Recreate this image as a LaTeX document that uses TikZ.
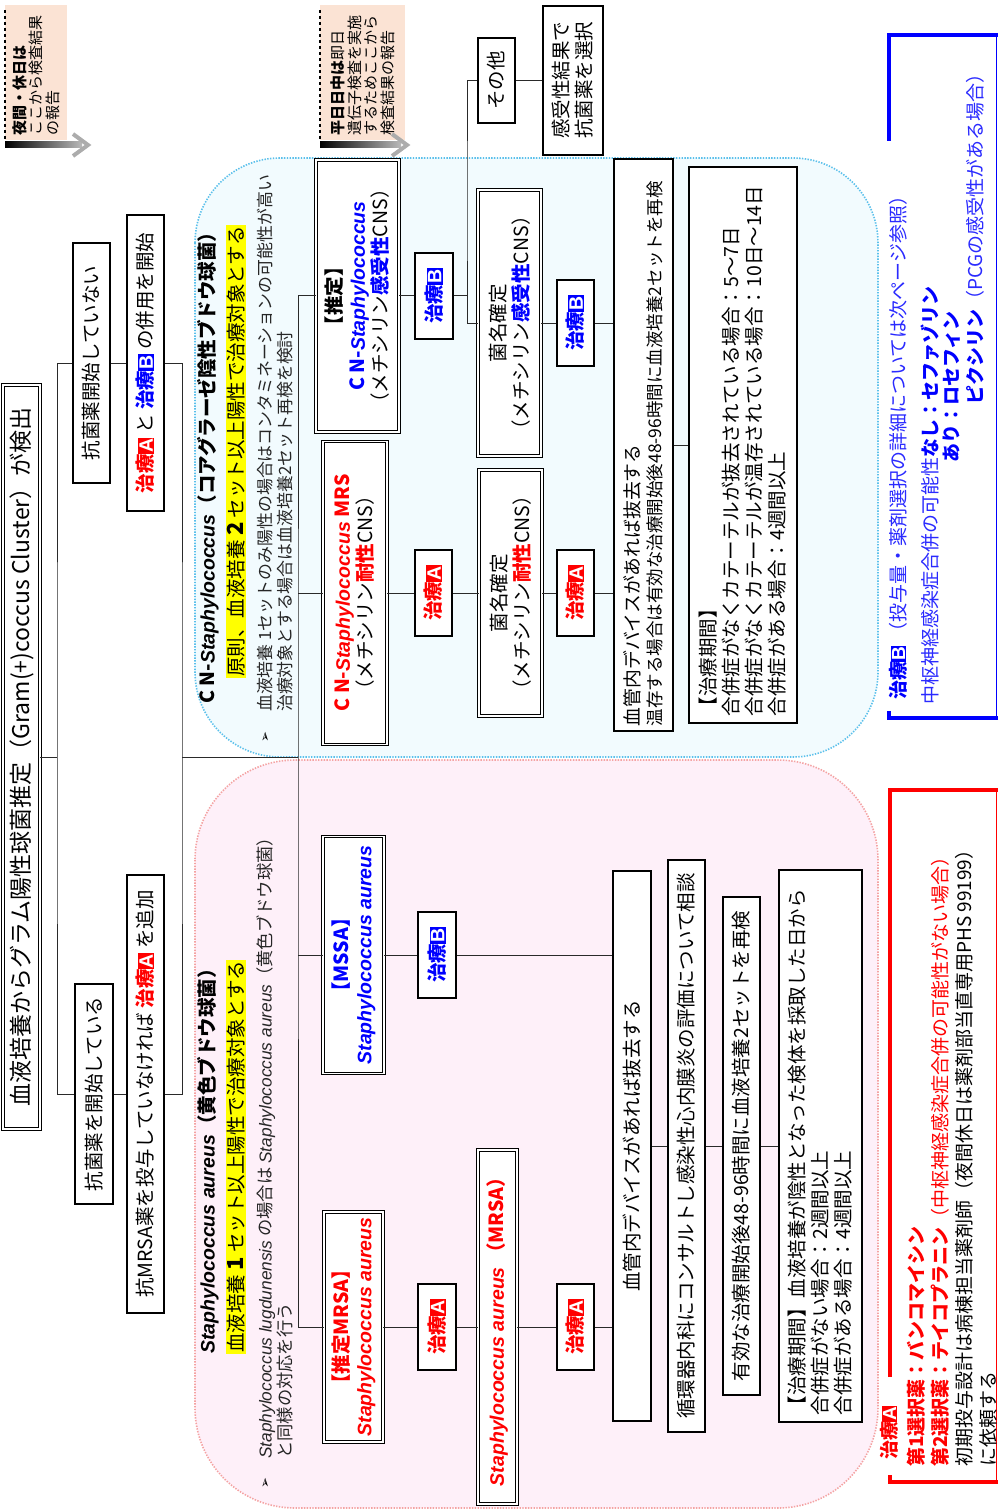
\documentclass[tikz,border=0pt]{standalone}
\usepackage{fontspec}
\setmainfont{Noto Sans CJK JP}
\newfontfamily\lsans{Liberation Sans}
\newfontfamily\dejavu{DejaVu Sans}
\definecolor{myred}{HTML}{FF0000}
\definecolor{myblue}{HTML}{0000FF}
\definecolor{lblue}{HTML}{2A2AFF}
\definecolor{peach}{HTML}{FBE3D4}
\definecolor{cnsfill}{HTML}{F2FBFE}
\definecolor{cnsline}{HTML}{5BC0EB}
\definecolor{safill}{HTML}{FEF0F9}
\definecolor{saline}{HTML}{F4A3A3}
\definecolor{hl}{HTML}{FFFF00}
\definecolor{treec}{HTML}{2A2A2A}
\newcommand\fsz[2]{\fontsize{#1pt}{#2pt}\selectfont}
\newcommand\badge[2]{{\setlength{\fboxsep}{1.1pt}\colorbox{#1}{\textcolor{white}{\lsans\bfseries #2}}}}
\newcommand\trA{{\color{myred}\bfseries 治療}\badge{myred}{A}}
\newcommand\trB{{\color{myblue}\bfseries 治療}\badge{myblue}{B}}
\newcommand\spi[1]{{\lsans\itshape #1}}
\newcommand\spbi[1]{{\lsans\bfseries\itshape #1}}
\begin{document}
\begin{tikzpicture}[x=1pt,y=-1pt,
  bx/.style={draw=black, line width=1.3pt, fill=white, rotate=90, inner sep=1pt, align=center, font=\fsz{19.5}{23}},
  dbx/.style={bx, double=white, double distance=1.6pt, line width=0.9pt},
  lbl/.style={rotate=90, inner sep=0pt, anchor=west, align=left},
  tree/.style={draw=treec, line width=1pt},
  note/.style={rotate=90, fill=peach, inner sep=2pt, align=left, font=\fsz{15}{16.5}},
  chev/.style={draw=gray!65, line width=4pt},
  legthick/.style={line width=4.5pt},
  region/.style={line width=1.6pt, dash pattern=on 1.4pt off 1.4pt}]
\useasboundingbox (0,0) rectangle (998,1511);

% regions
\draw[region, draw=cnsline, fill=cnsfill, rounded corners=85pt] (195,158) rectangle (878,757);
\draw[region, draw=saline, fill=safill, rounded corners=100pt] (195,760) rectangle (878,1508);

% top notes
\node[note, minimum width=135pt, minimum height=62pt, text width=127pt] (note1) at (36,72.5) {\textbf{夜間・休日は}\\ここから検査結果\\の報告};
\node[note, minimum width=135pt, minimum height=85pt, text width=127pt] (note2) at (362.5,72.5) {\textbf{平日日中は}即日\\遺伝子検査を実施\\するためここから\\検査結果の報告};
\draw[dashed, line width=1.2pt] (5,10) -- (5,141);
\draw[dashed, line width=1.2pt] (320,10) -- (320,141);
\coordinate (a1e) at (88,145);
\coordinate (a2e) at (407,145);
\shade[left color=black, right color=gray!55] (5,142) rectangle (82,148);
\draw[chev] (73,134) -- (a1e) -- (73,156);
\shade[left color=black, right color=gray!55] (320,142) rectangle (401,148);
\draw[chev] (392,134) -- (a2e) -- (392,156);

% top boxes
\node[dbx, minimum width=744pt, minimum height=37pt, font=\fsz{23}{25}] (title) at (21.5,757) {血液培養からグラム陽性球菌推定（Gram(+)coccus Cluster）が検出};
\node[bx, minimum width=240pt, minimum height=37pt] (noStart) at (91.5,363) {抗菌薬開始していない};
\node[bx, minimum width=296pt, minimum height=37pt] (combo) at (145.5,363) {\trA{} と \trB{} の併用を開始};
\node[bx, minimum width=220pt, minimum height=38pt] (started) at (94,1094) {抗菌薬を開始している};
\node[bx, minimum width=438pt, minimum height=37pt] (mrsaAdd) at (145.5,1094) {抗MRSA薬を投与していなければ \trA{} を追加};

% region labels CNS
\node[lbl, font=\fsz{19.5}{22}] (cnsTitle) at (208,704) {\textbf{C N-\spbi{Staphylococcus}（コアグラーゼ陰性ブドウ球菌）}};
\node[lbl, fill=hl, inner sep=1pt, font=\fsz{19.5}{22}] (cnsRule) at (236,678) {原則、血液培養 {\fsz{22}{22}\textbf{2}} セット以上陽性で治療対象とする};
\node[lbl, font=\fsz{16.9}{20}, text=black!85] (cnsNote) at (275,712) {血液培養 1セットのみ陽性の場合はコンタミネーションの可能性が高い\\治療対象とする場合は血液培養2セット再検を検討};
\node[rotate=90, inner sep=0pt, font=\dejavu\fsz{13}{13}] (cnsBul) at (266,737) {➢};

% region labels SA
\node[lbl, font=\fsz{19.5}{22}] (saTitle) at (208,1354) {\textbf{\spbi{Staphylococcus aureus}（黄色ブドウ球菌）}};
\node[lbl, fill=hl, inner sep=1pt, font=\fsz{19.5}{22}] (saRule) at (236,1354) {血液培養 {\fsz{22}{22}\textbf{1}} セット以上陽性で治療対象とする};
\node[lbl, font=\fsz{17.3}{20}, text=black!85] (saNote) at (275,1459) {\spi{Staphylococcus lugdunensis} の場合は \spi{Staphylococcus aureus}（黄色ブドウ球菌）\\と同様の対応を行う};
\node[rotate=90, inner sep=0pt, font=\dejavu\fsz{13}{13}] (saBul) at (266,1483) {➢};

% CNS branch
\node[dbx, minimum width=272pt, minimum height=83pt] (cnsEst) at (357.5,296) {\textbf{【推定】}\\\textcolor{myblue}{\textbf{C N-}\spbi{Staphylococcus}}\\（メチシリン\textcolor{myblue}{\textbf{感受性}}CNS）};
\node[dbx, minimum width=303pt, minimum height=64pt] (cnsMRS) at (355,593) {\textcolor{myred}{\textbf{C N-}\spbi{Staphylococcus}\textbf{ MRS}}\\（メチシリン\textcolor{myred}{\textbf{耐性}}CNS）};
\node[bx, minimum width=86pt, minimum height=38pt] (trB1) at (434,296) {\trB};
\node[bx, minimum width=86pt, minimum height=37pt] (trA1) at (433.5,593) {\trA};
\node[bx, minimum width=85pt, minimum height=37pt] (other) at (496.5,80.5) {その他};
\node[bx, minimum width=149pt, minimum height=60pt] (sensSel) at (573,80.5) {感受性結果で\\抗菌薬を選択};
\node[dbx, minimum width=266pt, minimum height=63pt] (cnsConfS) at (509.5,323) {菌名確定\\（メチシリン\textcolor{myblue}{\textbf{感受性}}CNS）};
\node[dbx, minimum width=246pt, minimum height=63pt] (cnsConfR) at (510.5,593) {菌名確定\\（メチシリン\textcolor{myred}{\textbf{耐性}}CNS）};
\node[bx, minimum width=86pt, minimum height=37pt] (trB3) at (575.5,323) {\trB};
\node[bx, minimum width=86pt, minimum height=37pt] (trA3) at (575.5,593) {\trA};
\node[bx, minimum width=572pt, minimum height=59pt, text width=562pt, align=left, inner xsep=5pt, font=\fsz{18.8}{22}] (dev1) at (643.5,445) {血管内デバイスがあれば抜去する\\{\fsz{17.5}{22}温存する場合は有効な治療開始後48-96時間に血液培養2セットを再検}};
\node[bx, minimum width=556pt, minimum height=108pt, text width=542pt, align=left, inner xsep=7pt] (dur1) at (743,445) {【治療期間】\\合併症がなくカテーテルが抜去されている場合：5～7日\\合併症がなくカテーテルが温存されている場合：10日～14日\\合併症がある場合：4週間以上};

% SA branch
\node[dbx, minimum width=237pt, minimum height=61pt] (mssa) at (353.5,955) {\textcolor{myblue}{\textbf{【MSSA】}}\\\textcolor{myblue}{\spbi{Staphylococcus aureus}}};
\node[dbx, minimum width=230pt, minimum height=59pt] (mrsaEst) at (353.5,1327) {\textcolor{myred}{\textbf{【推定MRSA】}}\\\textcolor{myred}{\spbi{Staphylococcus aureus}}};
\node[bx, minimum width=86pt, minimum height=38pt] (trB2) at (437,955) {\trB};
\node[bx, minimum width=86pt, minimum height=38pt] (trA2) at (437,1327) {\trA};
\node[dbx, minimum width=354pt, minimum height=39pt] (saMRSA) at (497.5,1327) {\textcolor{myred}{\spbi{Staphylococcus aureus} \textbf{（MRSA）}}};
\node[bx, minimum width=86pt, minimum height=37pt] (trA4) at (575.5,1327) {\trA};
\node[bx, minimum width=550pt, minimum height=38pt] (dev2) at (632,1146) {血管内デバイスがあれば抜去する};
\node[bx, minimum width=572pt, minimum height=37pt] (cardio) at (686.5,1146) {循環器内科にコンサルトし感染性心内膜炎の評価について相談};
\node[bx, minimum width=498pt, minimum height=37pt] (recheck) at (741.5,1146) {有効な治療開始後48-96時間に血液培養2セットを再検};
\node[bx, minimum width=552pt, minimum height=83pt, text width=538pt, align=left, inner xsep=7pt] (dur2) at (820.5,1146) {【治療期間】血液培養が陰性となった検体を採取した日から\\合併症がない場合：2週間以上\\合併症がある場合：4週間以上};

% connectors
\coordinate (j57) at (57,757);
\coordinate (j182) at (182,757);
\coordinate (j298) at (298,757);
\coordinate (j467) at (467,200);
\draw[tree] (title.south) -- (j57);
\draw[tree] (noStart.north) -| (j57) |- (started.north);
\draw[tree] (noStart.south) -- (combo.north);
\draw[tree] (started.south) -- (mrsaAdd.north);
\draw[tree] (combo.south) -| (j182) |- (mrsaAdd.south);
\draw[tree] (j182) -- (j298);
\draw[tree] (cnsEst.north) -| (j298) |- (mrsaEst.north);
\draw[tree] (cnsMRS.north) -- (cnsMRS.north -| j298);
\draw[tree] (mssa.north) -- (mssa.north -| j298);
\draw[tree] (cnsEst.south) -- (trB1.north);
\draw[tree] (trB1.south) -- (trB1.south -| j467);
\draw[tree] (other.north) -| (j467) |- (cnsConfS.north);
\draw[tree] (other.south) -- (sensSel.north);
\draw[tree] (cnsConfS.south) -- (trB3.north);
\draw[tree] (trB3.south) -- (trB3.south -| dev1.north);
\draw[tree] (cnsMRS.south) -- (trA1.north);
\draw[tree] (trA1.south) -- (cnsConfR.north);
\draw[tree] (cnsConfR.south) -- (trA3.north);
\draw[tree] (trA3.south) -- (trA3.south -| dev1.north);
\draw[tree] (dev1.south) -- (dur1.north);
\draw[tree] (mssa.south) -- (trB2.north);
\draw[tree] (trB2.south) -- (trB2.south -| dev2.north);
\draw[tree] (mrsaEst.south) -- (trA2.north);
\draw[tree] (trA2.south) -- (saMRSA.north);
\draw[tree] (saMRSA.south) -- (trA4.north);
\draw[tree] (trA4.south) -- (trA4.south -| dev2.north);
\draw[tree] (dev2.south) -- (cardio.north);
\draw[tree] (cardio.south) -- (recheck.north);
\draw[tree] (recheck.south) -- (dur2.north);

% legend B
\draw[myblue, legthick] (889,141) -- (889,35) -- (998,35);
\draw[myblue, line width=1pt] (996.5,35) -- (996.5,718);
\draw[myblue, legthick] (998,718) -- (889,718) -- (889,711);
\node[lbl, font=\fsz{19}{22}] (bl1) at (898,700) {\trB\ \textcolor{lblue}{（投与量・薬剤選択の詳細については次ページ参照）}};
\node[lbl, font=\fsz{19}{22}, text=lblue] (bl2) at (930,705) {中枢神経感染症合併の可能性\textcolor{myblue}{\textbf{なし：セファゾリン}}};
\node[lbl, font=\fsz{19}{22}, text=myblue] (bl3) at (952,463) {\textbf{あり：ロセフィン}};
\node[lbl, font=\fsz{19}{22}, text=lblue] (bl4) at (975,405) {\textcolor{myblue}{\textbf{ピクシリン}}（PCGの感受性がある場合）};

% legend A
\draw[myred, legthick] (890,1377) -- (890,790) -- (998,790);
\draw[myred, line width=1pt] (996.5,790) -- (996.5,1482);
\draw[myred, legthick] (998,1482) -- (890,1482) -- (890,1475);
\node[lbl, font=\fsz{19}{22}] (rl0) at (889,1460) {\trA};
\node[lbl, font=\fsz{19}{22}, text=myred] (rl1) at (916,1467) {\textbf{第1選択薬：バンコマイシン}};
\node[lbl, font=\fsz{19}{22}, text=myred] (rl2) at (940,1467) {\textbf{第2選択薬：テイコプラニン}（中枢神経感染症合併の可能性がない場合）};
\node[lbl, font=\fsz{19}{22}] (rl3) at (964,1467) {初期投与設計は病棟担当薬剤師（夜間休日は薬剤部当直専用PHS 99199）};
\node[lbl, font=\fsz{19}{22}] (rl4) at (988,1467) {に依頼する};
\end{tikzpicture}
\end{document}
